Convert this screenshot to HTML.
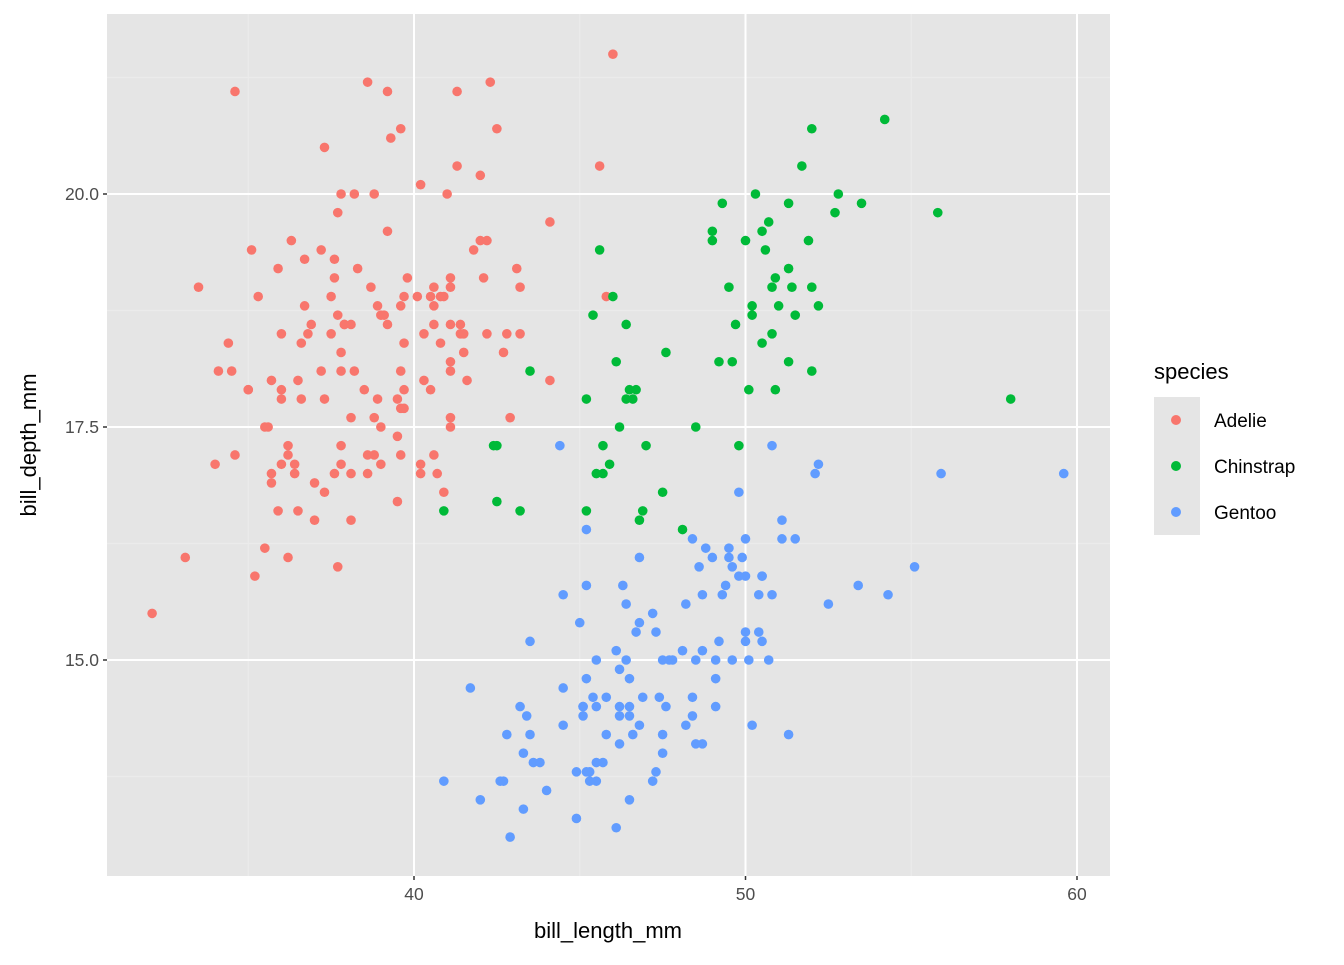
<!DOCTYPE html>
<html><head><meta charset="utf-8"><style>
body{margin:0;background:#fff;font-family:"Liberation Sans",Arial,sans-serif}
svg text{font-family:"Liberation Sans",Arial,sans-serif}
</style></head><body>
<svg id="chart" width="1344" height="960" viewBox="0 0 1344 960">
<rect x="107" y="14" width="1003" height="862" fill="#E5E5E5"/>
<g id="grid"></g>
<g id="points"></g>
<g id="axes"></g>
<text x="608" y="938" font-size="22" text-anchor="middle" fill="#000">bill_length_mm</text>
<text transform="translate(36,445) rotate(-90)" font-size="22" text-anchor="middle" fill="#000">bill_depth_mm</text>
<g>
<text x="1154" y="379" font-size="22" fill="#000">species</text>
<rect x="1154" y="397" width="46" height="138" fill="#E5E5E5"/>
<g><circle cx="1176" cy="420" r="5" fill="#F8766D"/><text x="1214" y="427" font-size="19" fill="#000">Adelie</text></g>
<g><circle cx="1176" cy="466" r="5" fill="#00BA38"/><text x="1214" y="473" font-size="19" fill="#000">Chinstrap</text></g>
<g><circle cx="1176" cy="512" r="5" fill="#619CFF"/><text x="1214" y="519" font-size="19" fill="#000">Gentoo</text></g>
</g>
</svg>
<script>
const xTicks=[40,50,60];
const xMinor=[35,45,55];
const yTicks=[15,17.5,20];
const yTickLabels=["15.0","17.5","20.0"];
const yMinor=[13.75,16.25,18.75,21.25];
const adelie=[[39.1,18.7],[39.5,17.4],[40.3,18],[36.7,19.3],[39.3,20.6],[38.9,17.8],[39.2,19.6],[34.1,18.1],[42,20.2],[37.8,17.1],[37.8,17.3],[41.1,17.6],[38.6,21.2],[34.6,21.1],[36.6,17.8],[38.7,19],[42.5,20.7],[34.4,18.4],[46,21.5],[37.8,18.3],[37.7,18.7],[35.9,19.2],[38.2,18.1],[38.8,17.2],[35.3,18.9],[40.6,18.6],[40.5,17.9],[37.9,18.6],[40.5,18.9],[39.5,16.7],[37.2,18.1],[39.5,17.8],[40.9,18.9],[36.4,17],[39.2,21.1],[38.8,20],[42.2,18.5],[37.6,19.3],[39.8,19.1],[36.5,18],[40.8,18.4],[36,18.5],[44.1,19.7],[37,16.9],[39.6,18.8],[41.1,19],[37.5,18.9],[36,17.9],[42.3,21.2],[39.6,17.7],[40.1,18.9],[35,17.9],[42,19.5],[34.5,18.1],[41.4,18.6],[39,17.5],[40.6,18.8],[36.5,16.6],[37.6,19.1],[35.7,16.9],[41.3,21.1],[37.6,17],[41.1,18.2],[36.4,17.1],[41.6,18],[35.5,16.2],[41.1,19.1],[35.9,16.6],[41.8,19.4],[33.5,19],[39.7,18.4],[39.6,17.2],[45.8,18.9],[35.5,17.5],[42.8,18.5],[40.9,16.8],[37.2,19.4],[36.2,16.1],[42.1,19.1],[34.6,17.2],[42.9,17.6],[36.7,18.8],[35.1,19.4],[37.3,17.8],[41.3,20.3],[36.3,19.5],[36.9,18.6],[38.3,19.2],[38.9,18.8],[35.7,18],[41.1,18.1],[34,17.1],[39.6,18.1],[36.2,17.3],[40.8,18.9],[38.1,18.6],[40.3,18.5],[33.1,16.1],[43.2,18.5],[35,17.9],[41,20],[37.7,16],[37.8,20],[37.9,18.6],[39.7,18.9],[38.6,17.2],[38.2,20],[38.1,17],[43.2,19],[38.1,16.5],[45.6,20.3],[39.7,17.7],[42.2,19.5],[39.6,20.7],[42.7,18.3],[38.6,17],[37.3,20.5],[35.7,17],[41.1,18.6],[36.2,17.2],[37.7,19.8],[40.2,17],[41.4,18.5],[35.2,15.9],[40.6,19],[38.8,17.6],[41.5,18.3],[39,17.1],[44.1,18],[38.5,17.9],[43.1,19.2],[36.8,18.5],[37.5,18.5],[38.1,17.6],[41.1,17.5],[35.6,17.5],[40.2,20.1],[37,16.5],[39.7,17.9],[40.2,17.1],[40.6,17.2],[32.1,15.5],[40.7,17],[37.3,16.8],[39,18.7],[39.2,18.6],[36.6,18.4],[36,17.8],[37.8,18.1],[36,17.1],[41.5,18.5]];
const chinstrap=[[46.5,17.9],[50,19.5],[51.3,19.2],[45.4,18.7],[52.7,19.8],[45.2,17.8],[46.1,18.2],[51.3,18.2],[46,18.9],[51.3,19.9],[46.6,17.8],[51.7,20.3],[47,17.3],[52,18.1],[45.9,17.1],[50.5,19.6],[50.3,20],[58,17.8],[46.4,18.6],[49.2,18.2],[42.4,17.3],[48.5,17.5],[43.2,16.6],[50.6,19.4],[46.7,17.9],[52,19],[50.5,18.4],[49.5,19],[46.4,17.8],[52.8,20],[40.9,16.6],[54.2,20.8],[42.5,16.7],[51,18.8],[49.7,18.6],[47.5,16.8],[47.6,18.3],[52,20.7],[46.9,16.6],[53.5,19.9],[49,19.5],[46.2,17.5],[50.9,19.1],[45.5,17],[50.9,17.9],[50.8,18.5],[50.1,17.9],[49,19.6],[51.5,18.7],[49.8,17.3],[48.1,16.4],[51.4,19],[45.7,17.3],[50.7,19.7],[42.5,17.3],[52.2,18.8],[45.2,16.6],[49.3,19.9],[50.2,18.8],[45.6,19.4],[51.9,19.5],[46.8,16.5],[45.7,17],[55.8,19.8],[43.5,18.1],[49.6,18.2],[50.8,19],[50.2,18.7]];
const gentoo=[[46.1,13.2],[50,16.3],[48.7,14.1],[50,15.2],[47.6,14.5],[46.5,13.5],[45.4,14.6],[46.7,15.3],[43.3,13.4],[46.8,15.4],[40.9,13.7],[49,16.1],[45.5,13.7],[48.4,14.6],[45.8,14.6],[49.3,15.7],[42,13.5],[49.2,15.2],[46.2,14.5],[48.7,15.1],[50.2,14.3],[45.1,14.5],[46.5,14.5],[46.3,15.8],[42.9,13.1],[46.1,15.1],[44.5,14.3],[47.8,15],[48.2,14.3],[50,15.3],[47.3,15.3],[42.8,14.2],[45.1,14.5],[59.6,17],[49.1,14.8],[48.4,16.3],[42.6,13.7],[44.4,17.3],[44,13.6],[48.7,15.7],[42.7,13.7],[49.6,16],[45.3,13.7],[49.6,15],[50.5,15.9],[43.6,13.9],[45.5,13.9],[50.5,15.9],[44.9,13.3],[45.2,15.8],[46.6,14.2],[48.5,14.1],[45.1,14.4],[50.1,15],[46.5,14.4],[45,15.4],[43.8,13.9],[45.5,15],[43.2,14.5],[50.4,15.3],[45.3,13.8],[46.2,14.9],[45.7,13.9],[54.3,15.7],[45.8,14.2],[49.8,16.8],[46.2,14.4],[49.5,16.2],[43.5,14.2],[50.7,15],[47.7,15],[46.4,15.6],[48.2,15.6],[46.5,14.8],[46.4,15],[48.6,16],[47.5,14.2],[51.1,16.3],[45.2,13.8],[45.2,16.4],[49.1,14.5],[52.5,15.6],[47.4,14.6],[50,15.9],[44.9,13.8],[50.8,17.3],[43.4,14.4],[51.3,14.2],[47.5,14],[52.1,17],[47.5,15],[52.2,17.1],[45.5,14.5],[49.5,16.1],[44.5,14.7],[50.8,15.7],[49.4,15.8],[46.9,14.6],[48.4,14.4],[51.1,16.5],[48.5,15],[55.9,17],[47.2,15.5],[49.1,15],[47.3,13.8],[46.8,16.1],[41.7,14.7],[53.4,15.8],[43.3,14],[48.1,15.1],[50.5,15.2],[49.8,15.9],[43.5,15.2],[51.5,16.3],[46.2,14.1],[55.1,16],[44.5,15.7],[48.8,16.2],[47.2,13.7],[46.8,14.3],[50.4,15.7],[45.2,14.8],[49.9,16.1]];
const NS="http://www.w3.org/2000/svg";
const PL=107,PR=1110,PT=14,PB=876;
function xs(v){return 414+(v-40)*33.15;}
function ys(v){return 194-(v-20)*93.2;}
function mk(tag,attrs,parent){const e=document.createElementNS(NS,tag);for(const k in attrs)e.setAttribute(k,attrs[k]);parent.appendChild(e);return e;}
const grid=document.getElementById('grid'),axes=document.getElementById('axes'),pts=document.getElementById('points');
xMinor.forEach(v=>{const l=mk('line',{x1:xs(v),x2:xs(v),y1:PT,y2:PB,stroke:'#EBEBEB','stroke-width':1.2},grid);

});
yMinor.forEach(v=>{const l=mk('line',{x1:PL,x2:PR,y1:ys(v),y2:ys(v),stroke:'#EBEBEB','stroke-width':1.2},grid);

});
xTicks.forEach(v=>{const l=mk('line',{x1:xs(v),x2:xs(v),y1:PT,y2:PB,stroke:'#fff','stroke-width':2},grid);


const t=mk('line',{x1:xs(v),x2:xs(v),y1:PB,y2:PB+4,stroke:'#333','stroke-width':1.5},axes);


const tx=mk('text',{x:xs(v),y:PB+24,'font-size':17.5,'text-anchor':'middle',fill:'#4D4D4D'},axes);tx.textContent=v;

});
yTicks.forEach((v,i)=>{const l=mk('line',{x1:PL,x2:PR,y1:ys(v),y2:ys(v),stroke:'#fff','stroke-width':2},grid);


const t=mk('line',{x1:PL-4,x2:PL,y1:ys(v),y2:ys(v),stroke:'#333','stroke-width':1.5},axes);


const tx=mk('text',{x:PL-8,y:ys(v)+6,'font-size':17.5,'text-anchor':'end',fill:'#4D4D4D'},axes);tx.textContent=yTickLabels[i];

});
[[adelie,'#F8766D','point-adelie'],[chinstrap,'#00BA38','point-chinstrap'],[gentoo,'#619CFF','point-gentoo']].forEach(([d,c,n])=>{
d.forEach(p=>{const e=mk('circle',{cx:xs(p[0]),cy:ys(p[1]),r:4.8,fill:c},pts);

});});
</script>
</body></html>
